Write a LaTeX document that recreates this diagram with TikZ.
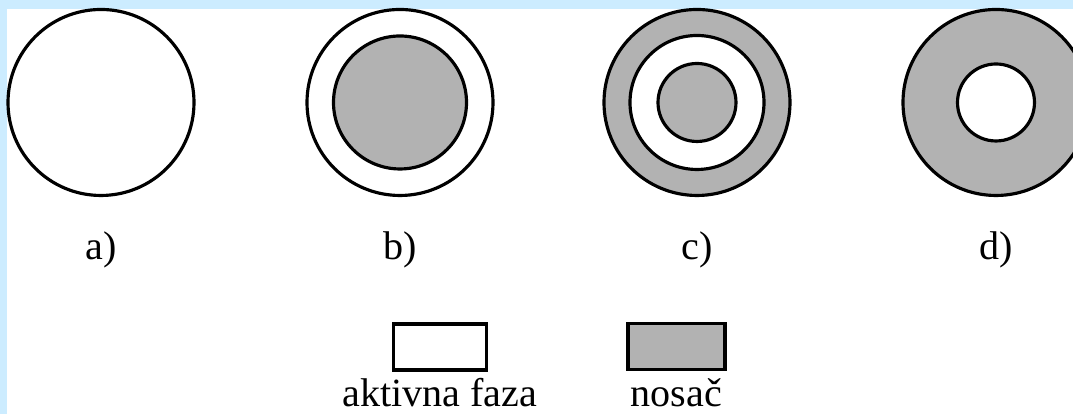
\documentclass[tikz,border=0pt]{standalone}
\usepackage{fontspec}
\setmainfont{Liberation Serif}
\usetikzlibrary{positioning}
\definecolor{okvir}{RGB}{204,236,255}
\definecolor{nosacsiva}{RGB}{178,178,178}
\tikzstyle{zrno}=[circle,draw,line width=0.9pt,inner sep=0pt,outer sep=0pt]
\tikzstyle{aktivna}=[zrno,fill=white]
\tikzstyle{nosac}=[zrno,fill=nosacsiva]
\tikzstyle{oznaka}=[anchor=base,inner sep=0pt]
\tikzstyle{legenda}=[rectangle,draw,line width=0.9pt,minimum width=0.93cm,minimum height=0.46cm,inner sep=0pt]

\begin{document}
\begin{tikzpicture}[font=\fontsize{11.4pt}{13pt}\selectfont]
	\useasboundingbox (0,0) rectangle (10.73,4.14);
	\fill[white] (0,0) rectangle (10.73,4.14);
	\fill[okvir] (0,4.05) rectangle (10.73,4.14);
	\fill[okvir] (0,0) rectangle (0.07,4.14);

	% a) samo aktivna faza
	\node[aktivna,minimum size=1.86cm] (a) at (1.01,3.115) {};
	% b) aktivna faza oko nosaca
	\node[aktivna,minimum size=1.86cm] (b) at (4.00,3.115) {};
	\node[nosac,minimum size=1.33cm] (b1) at (b.center) {};
	% c) slojevi
	\node[nosac,minimum size=1.86cm] (c) at (6.97,3.115) {};
	\node[aktivna,minimum size=1.34cm] (c1) at (c.center) {};
	\node[nosac,minimum size=0.78cm] (c2) at (c.center) {};
	% d) nosac oko aktivne faze
	\node[nosac,minimum size=1.86cm] (d) at (9.96,3.115) {};
	\node[aktivna,minimum size=0.77cm] (d1) at (d.center) {};

	\node[oznaka] (la) at (a.center |- 0,1.54) {a)};
	\node[oznaka] (lb) at (b.center |- 0,1.54) {b)};
	\node[oznaka] (lc) at (c.center |- 0,1.54) {c)};
	\node[oznaka] (ld) at (d.center |- 0,1.54) {d)};

	% legenda
	\node[legenda,fill=white] (akt) at (4.40,0.67) {};
	\node[legenda,fill=nosacsiva,minimum width=0.97cm] (nos) at (6.765,0.675) {};
	\node[oznaka] (takt) at (akt.center |- 0,0.07) {aktivna faza};
	\node[oznaka] (tnos) at (nos.center |- 0,0.07) {nosač};
\end{tikzpicture}
\end{document}
